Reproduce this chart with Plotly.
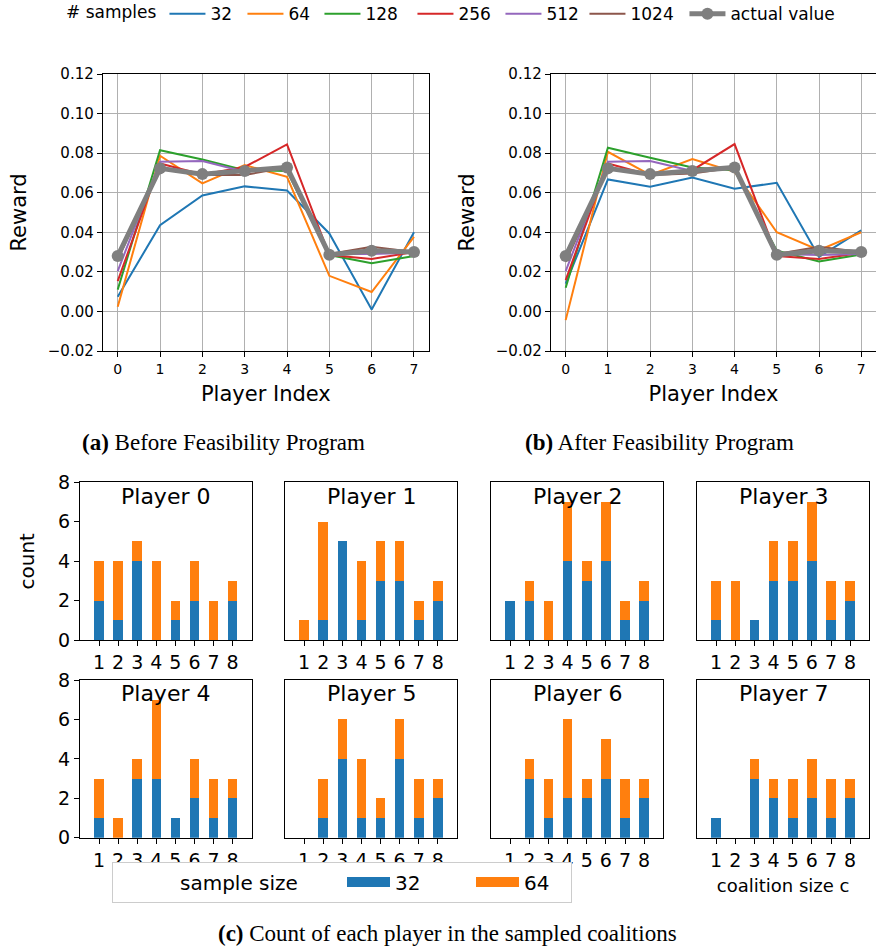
import plotly.graph_objects as go

# ---------------- data ----------------
players = [0, 1, 2, 3, 4, 5, 6, 7]
sample_labels = ["32", "64", "128", "256", "512", "1024"]
line_colors = ["#1f77b4", "#ff7f0e", "#2ca02c", "#d62728", "#9467bd", "#8c564b"]

# (a) Before Feasibility Program
before_32 = [0.0074, 0.0436, 0.0586, 0.0632, 0.0611, 0.0394, 0.0010, 0.0400]
before_64 = [0.0024, 0.0787, 0.0647, 0.0740, 0.0680, 0.0180, 0.0098, 0.0377]
before_128 = [0.0110, 0.0815, 0.0768, 0.0714, 0.0710, 0.0285, 0.0244, 0.0280]
before_256 = [0.0153, 0.0748, 0.0692, 0.0730, 0.0844, 0.0285, 0.0265, 0.0300]
before_512 = [0.0204, 0.0756, 0.0760, 0.0706, 0.0730, 0.0290, 0.0290, 0.0296]
before_1024 = [0.0260, 0.0728, 0.0690, 0.0690, 0.0728, 0.0290, 0.0327, 0.0300]

# (b) After Feasibility Program
after_32 = [0.0140, 0.0667, 0.0630, 0.0677, 0.0620, 0.0650, 0.0276, 0.0410]
after_64 = [-0.0044, 0.0807, 0.0690, 0.0770, 0.0706, 0.0400, 0.0310, 0.0400]
after_128 = [0.0120, 0.0827, 0.0777, 0.0728, 0.0714, 0.0307, 0.0253, 0.0288]
after_256 = [0.0158, 0.0748, 0.0690, 0.0714, 0.0846, 0.0280, 0.0265, 0.0296]
after_512 = [0.0204, 0.0756, 0.0760, 0.0710, 0.0734, 0.0290, 0.0285, 0.0290]
after_1024 = [0.0250, 0.0728, 0.0690, 0.0697, 0.0728, 0.0290, 0.0327, 0.0300]

actual_value = [0.0280, 0.0723, 0.0694, 0.0710, 0.0728, 0.0286, 0.0307, 0.0300]

reward_ticks = [-0.02, 0.0, 0.02, 0.04, 0.06, 0.08, 0.10, 0.12]

# (c) counts per coalition size (stacked: 32 at bottom, 64 on top)
coalition_sizes = [1, 2, 3, 4, 5, 6, 7, 8]
count_32_player0 = [2, 1, 4, 0, 1, 2, 0, 2]
count_64_player0 = [2, 3, 1, 4, 1, 2, 2, 1]
count_32_player1 = [0, 1, 5, 1, 3, 3, 1, 2]
count_64_player1 = [1, 5, 0, 3, 2, 2, 1, 1]
count_32_player2 = [2, 2, 0, 4, 3, 4, 1, 2]
count_64_player2 = [0, 1, 2, 3, 1, 3, 1, 1]
count_32_player3 = [1, 0, 1, 3, 3, 4, 1, 2]
count_64_player3 = [2, 3, 0, 2, 2, 3, 2, 1]
count_32_player4 = [1, 0, 3, 3, 1, 2, 1, 2]
count_64_player4 = [2, 1, 1, 4, 0, 2, 2, 1]
count_32_player5 = [0, 1, 4, 1, 1, 4, 1, 2]
count_64_player5 = [0, 2, 2, 3, 1, 2, 2, 1]
count_32_player6 = [0, 3, 1, 2, 2, 3, 1, 2]
count_64_player6 = [0, 1, 2, 4, 1, 2, 2, 1]
count_32_player7 = [1, 0, 3, 2, 1, 2, 1, 2]
count_64_player7 = [0, 0, 1, 1, 2, 2, 2, 1]
count_ticks = [0, 2, 4, 6, 8]

before_series = [before_32, before_64, before_128, before_256, before_512, before_1024]
after_series = [after_32, after_64, after_128, after_256, after_512, after_1024]
counts_32 = [count_32_player0, count_32_player1, count_32_player2, count_32_player3,
             count_32_player4, count_32_player5, count_32_player6, count_32_player7]
counts_64 = [count_64_player0, count_64_player1, count_64_player2, count_64_player3,
             count_64_player4, count_64_player5, count_64_player6, count_64_player7]

# ---------------- layout helpers ----------------
W, H = 876, 950
def px_x(a, b):
    return [a / W, min(b / W, 1.0)]
def px_y(top, bottom):
    return [1 - bottom / H, 1 - top / H]

FONT = "DejaVu Sans"
SERIF = "Liberation Serif"
BLUE, ORANGE, GRAY = "#1f77b4", "#ff7f0e", "#7f7f7f"

fig = go.Figure()

legend_widths = [27, 26, 42, 37, 33, 49]

# line panels
for pi, (series, xa, ya) in enumerate([(before_series, "x", "y"), (after_series, "x2", "y2")]):
    for k, (lab, vals) in enumerate(zip(sample_labels, series)):
        fig.add_trace(go.Scatter(
            x=players, y=vals, mode="lines", name=lab,
            line=dict(color=line_colors[k], width=2),
            xaxis=xa, yaxis=ya, showlegend=(pi == 0), legendgroup=lab,
            legend="legend", legendwidth=legend_widths[k],
        ))
    fig.add_trace(go.Scatter(
        x=players, y=actual_value, mode="lines+markers", name="actual value",
        line=dict(color=GRAY, width=5), marker=dict(color=GRAY, size=12),
        xaxis=xa, yaxis=ya, showlegend=(pi == 0), legendgroup="actual",
        legend="legend",
    ))

# bar panels
col_x = [(80, 251.7), (285, 457), (491, 663.3), (697, 869.3)]
row_y = [(482.3, 640.3), (680, 837.7)]
for p in range(8):
    idx = p + 3
    xa, ya = f"x{idx}", f"y{idx}"
    fig.add_trace(go.Bar(x=coalition_sizes, y=counts_32[p], marker=dict(color=BLUE, line=dict(width=0)),
                         width=0.5, xaxis=xa, yaxis=ya, showlegend=False, name="32", legendgroup="b32"))
    fig.add_trace(go.Bar(x=coalition_sizes, y=counts_64[p], marker=dict(color=ORANGE, line=dict(width=0)),
                         width=0.5, xaxis=xa, yaxis=ya, showlegend=False, name="64", legendgroup="b64"))

# legend entries for the sample-size legend (patches)
for name, col, lw in [("sample size", "rgba(0,0,0,0)", 143), ("32", BLUE, 57), ("64", ORANGE, 42)]:
    fig.add_trace(go.Scatter(x=[None], y=[None], mode="lines", name=name,
                             line=dict(color=col, width=12), legend="legend2",
                             legendwidth=lw, showlegend=True,
                             legendgroup={"32": "b32", "64": "b64"}.get(name, "dummy")))

axis_common = dict(showline=True, linecolor="black", linewidth=1.3, mirror=True,
                   ticks="outside", ticklen=5, tickwidth=1.2, tickcolor="black",
                   zeroline=False)

layout = dict(
    width=W, height=H, margin=dict(l=0, r=0, t=0, b=0, autoexpand=False),
    paper_bgcolor="white", plot_bgcolor="white",
    font=dict(family=FONT, color="black"),
    barmode="stack", bargap=0,
    showlegend=True,
)

for i, (dom_x, yname) in enumerate([(px_x(102.9, 428.8), "y"), (px_x(550.9, 877), "y2")]):
    xk = "xaxis" if i == 0 else "xaxis2"
    yk = "yaxis" if i == 0 else "yaxis2"
    layout[xk] = dict(axis_common, domain=dom_x, range=[-0.35, 7.35], tickvals=players,
                      showgrid=True, gridcolor="#b0b0b0", gridwidth=1,
                      tickfont=dict(size=14), anchor=yname,
                      title=dict(text="Player Index", font=dict(size=21), standoff=10))
    layout[yk] = dict(axis_common, domain=px_y(74, 351), range=[-0.02, 0.12],
                      tickvals=reward_ticks, tickformat=".2f",
                      showgrid=True, gridcolor="#b0b0b0", gridwidth=1,
                      tickfont=dict(size=15), anchor=("x" if i == 0 else "x2"),
                      title=dict(text="Reward", font=dict(size=21), standoff=15))

for p in range(8):
    idx = p + 3
    r, c = divmod(p, 4)
    layout[f"xaxis{idx}"] = dict(axis_common, domain=px_x(*col_x[c]), range=[0, 9],
                                 tickvals=coalition_sizes, showgrid=False,
                                 tickfont=dict(size=19), anchor=f"y{idx}")
    ydict = dict(axis_common, domain=px_y(*row_y[r]), range=[0, 8], tickvals=count_ticks,
                 showgrid=False, tickfont=dict(size=19), anchor=f"x{idx}")
    if c != 0:
        ydict.update(showticklabels=False, ticks="")
    if c == 0 and r == 0:
        ydict["title"] = dict(text="count", font=dict(size=20), standoff=17)
    layout[f"yaxis{idx}"] = ydict
layout["xaxis10"]["title"] = dict(text="coalition size c", font=dict(size=18), standoff=9)

layout["legend"] = dict(
    orientation="h", x=64 / W, y=1.004, xanchor="left", yanchor="top",
    title=dict(text="# samples", font=dict(size=17)), font=dict(size=17),
    itemwidth=36, bgcolor="rgba(0,0,0,0)", borderwidth=0, traceorder="normal",
)
layout["legend2"] = dict(
    orientation="h", x=112 / W, y=1 - 861.5 / H, xanchor="left", yanchor="top",
    font=dict(size=20), itemwidth=43, bgcolor="white", indentation=14,
    bordercolor="#cccccc", borderwidth=1, traceorder="normal",
)

annotations = []
for p in range(8):
    r, c = divmod(p, 4)
    x0, x1 = col_x[c]
    ty = 496 if r == 0 else 693
    annotations.append(dict(text=f"Player {p}", x=(x0 + x1) / 2 / W, y=1 - ty / H,
                            xref="paper", yref="paper", showarrow=False,
                            xanchor="center", yanchor="middle", font=dict(size=22)))
captions = [("<b>(a)</b> Before Feasibility Program", 223, 442),
            ("<b>(b)</b> After Feasibility Program", 659, 442),
            ("<b>(c)</b> Count of each player in the sampled coalitions", 447, 933)]
for text, cx, cy in captions:
    annotations.append(dict(text=text, x=cx / W, y=1 - cy / H, xref="paper", yref="paper",
                            showarrow=False, xanchor="center", yanchor="middle",
                            font=dict(family=SERIF, size=23)))
layout["annotations"] = annotations

fig.update_layout(**layout)
fig.write_html("out.html", config={"displayModeBar": False},
               post_script="document.body.style.margin='0';document.body.style.overflow='hidden';")
